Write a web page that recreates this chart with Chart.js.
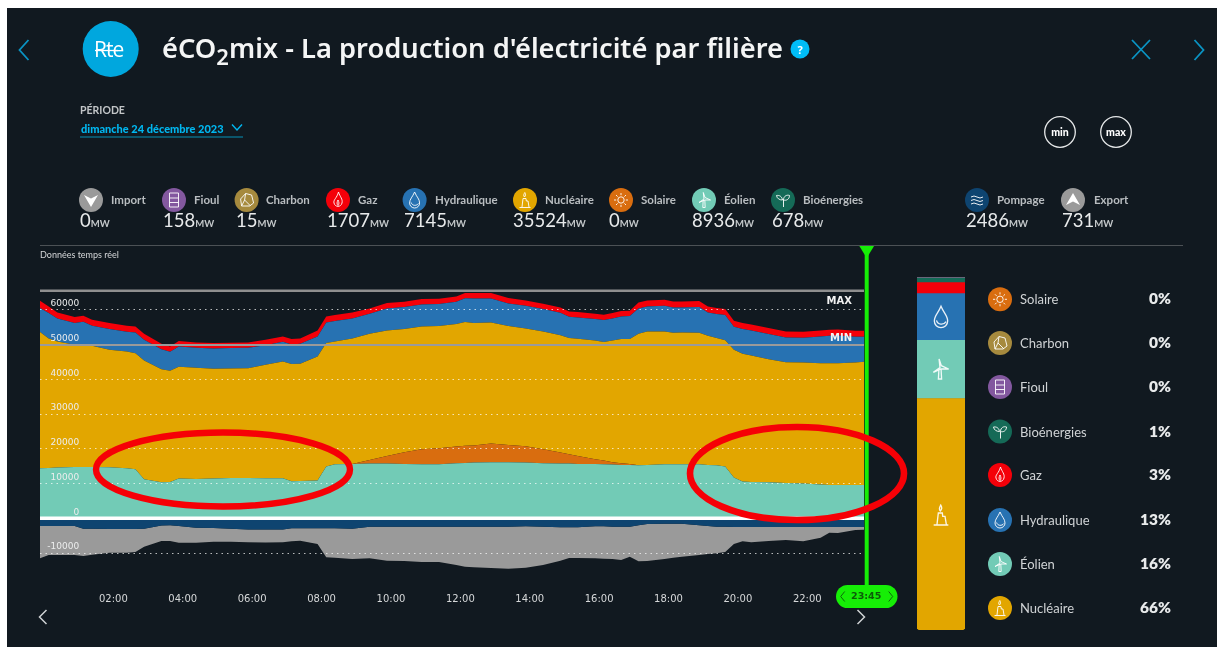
<!DOCTYPE html>
<html lang="fr"><head><meta charset="utf-8">
<title>éCO2mix</title>
<script src="https://cdn.jsdelivr.net/npm/chart.js@4"></script>
<style>
html,body{margin:0;padding:0;background:#fff;width:1217px;height:647px;overflow:hidden}
#panel{position:absolute;left:7px;top:8px;width:1210px;height:639px;background:#111920}
#main{position:absolute;left:0;top:0;width:1217px;height:647px}
#barWrap{position:absolute;left:917px;top:277px;width:48px;height:353px}
#over{position:absolute;left:0;top:0;pointer-events:none}
.t{position:absolute;white-space:nowrap;font-family:Lato,sans-serif;color:#fff;line-height:1}
.lab{font-size:11.5px;font-weight:700;color:#b9bdc0;transform:translateY(-50%)}
.val{font-size:18.5px;color:#e8eaeb;transform:translateY(-50%)}
.val small{font-size:9.5px;font-weight:700;color:#c4c8ca}
.rlab{font-size:13px;font-weight:400;color:#d0d3d5;transform:translateY(-50%)}
.rval{font-size:15.5px;font-weight:800;color:#e8eaeb;transform:translate(-100%,-50%)}
</style></head><body>
<div id="panel"></div>
<canvas id="main" width="1217" height="647"></canvas>
<div id="barWrap"><canvas id="bar" width="48" height="353"></canvas></div>
<svg id="over" width="1217" height="647"></svg>
<div id="txt"></div>
<script>
const hours = [0,.25,.5,1,1.25,1.5,2,2.5,2.75,3,3.5,3.75,4,4.5,5,5.5,6,6.5,7,7.25,7.5,8,8.25,8.5,9,9.5,10,10.5,11,11.5,12,12.25,12.5,13,13.5,14,14.5,15,15.25,15.5,16,16.25,16.5,16.75,17,17.25,17.5,18,18.25,18.5,19,19.25,19.5,19.75,20,20.25,20.5,21,21.5,22,22.5,22.75,23,23.5,23.75];
const eolien = [14400,14500,14590,14780,14780,14780,14690,14400,14110,11230,10370,10460,11420,11330,11420,11620,11620,11520,11520,10660,10750,10850,14880,15550,15650,15740,15740,15650,15550,15550,15840,15940,16030,16130,16130,16030,15840,15740,15740,15650,15650,15550,15460,15360,15360,15260,15360,15550,15550,15550,15550,15360,15260,14880,11710,10560,10460,10370,10180,9980,9700,9600,9600,9600,9600];
const solaire = [0,0,0,0,0,0,0,0,0,0,0,0,0,0,0,0,0,0,0,0,0,0,0,0,0,1060,2210,3360,4320,4610,4800,4900,4900,5380,4990,4700,4030,3170,2690,2300,1340,1060,670,480,290,0,0,0,0,0,0,0,0,0,0,0,0,0,0,0,0,0,0,0,0];
const nucleaire = [39170,37250,36290,35140,35040,34850,33790,33600,33410,34180,32540,31970,32160,31970,31580,31490,31580,32640,33600,33700,33700,35710,35520,35330,36100,36290,36100,35420,35330,35140,35230,35620,35230,34850,34180,33890,33890,33790,33410,33700,34180,34080,35040,35710,35900,37820,38400,38210,37820,37920,37820,37150,36580,36380,36770,36770,36380,35420,34750,34850,34940,35040,35040,35230,35420];
const hydraulique = [6910,7300,6620,6240,6720,5760,5950,5660,5950,5950,5760,5470,5860,5760,5860,5860,5860,5660,5660,5660,5760,5760,5950,5860,5760,5760,6340,6340,6340,6340,6430,6820,7100,6910,6530,6530,6430,6430,6140,6140,6140,6340,6340,6530,6620,7300,7200,7390,7300,7200,7390,6720,6910,7200,6620,7100,7200,7200,7100,7100,7680,7870,7970,7390,7200];
const gaz = [2110,1920,1730,1730,1730,1730,1730,1730,1730,1730,1540,1540,1540,1540,1540,1540,1540,1540,1540,1540,1540,1730,1730,1730,1730,1540,1540,1540,1540,1540,1540,1540,1540,1540,1540,1540,1540,1540,1540,1540,1540,1540,1540,1540,1540,1730,1730,1730,1730,1730,1730,1730,1730,1730,1730,1730,1730,1730,1730,1730,1730,1730,1730,1730,1730];
const pompage = [-2210,-2210,-2210,-2210,-2980,-2980,-3070,-3070,-3070,-2980,-2110,-2020,-2210,-2690,-2780,-2980,-3260,-3260,-3260,-2880,-2880,-2880,-2880,-2880,-2980,-2400,-2400,-2400,-2400,-2400,-2400,-2400,-2400,-2400,-2400,-2300,-2400,-2590,-2590,-2590,-2300,-2300,-2400,-2400,-2400,-2020,-1630,-1540,-1540,-1540,-2020,-2210,-2400,-2400,-2500,-2500,-2500,-2500,-2500,-2500,-2500,-2500,-2500,-2500,-2500];
const exportMW = [-9310,-8350,-8350,-8350,-7870,-7490,-6820,-6820,-6620,-5180,-4420,-4510,-4800,-4320,-3940,-3740,-3650,-3740,-3650,-3740,-3550,-4510,-8350,-8450,-8740,-9120,-9790,-9890,-10180,-10180,-11040,-11520,-11710,-11900,-12100,-11900,-11040,-9600,-8830,-8830,-9220,-9310,-9310,-9600,-8640,-10370,-10660,-10180,-9790,-9500,-8540,-8060,-7680,-7300,-4900,-4130,-4420,-4030,-3740,-4130,-3070,-1630,-1730,-860,-770];
const yTicks = [-10000,0,10000,20000,30000,40000,50000,60000];
const xTicks = [2,4,6,8,10,12,14,16,18,20,22];
const maxRef = 65470, minRef = 49840, cursorHour = 23.75;
const mixNames = ['Nucléaire','Éolien','Hydraulique','Gaz','Bioénergies','Charbon','Fioul'];
const mixMW = [35524,8936,7145,1707,678,15,158];
const mixColors = ['#e2a600','#72cbb6','#2772b2','#f40009','#156a57','#a68a3e','#7d5aa0'];
const liveNames = ['Import','Fioul','Charbon','Gaz','Hydraulique','Nucléaire','Solaire','Éolien','Bioénergies','Pompage','Export'];
const liveMW = [0,158,15,1707,7145,35524,0,8936,678,2486,731];
const shareNames = ['Solaire','Charbon','Fioul','Bioénergies','Gaz','Hydraulique','Éolien','Nucléaire'];
const sharePct = [0,0,0,1,3,13,16,66];

const col = {Import:'#9a9a9a',Export:'#9a9a9a',Fioul:'#83589f',Charbon:'#a68a3e',Gaz:'#f40009',Hydraulique:'#2772b2','Nucléaire':'#e2a600',Solaire:'#d96d0f','Éolien':'#72cbb6','Bioénergies':'#156a57',Pompage:'#0e4470'};

const pts = a => a.map((y,i)=>({x:hours[i],y}));
const area = (label,data,color,fill) => ({label,data:pts(data),backgroundColor:color,borderColor:color,borderWidth:0,pointRadius:0,tension:0,fill});

const overlay = {
  id:'overlay',
  afterDraw(c){
    const {ctx,scales:{x,y}} = c;
    const L=x.left,R=x.right;
    ctx.save();
    const hline=(v,color,w)=>{ctx.strokeStyle=color;ctx.lineWidth=w;ctx.beginPath();ctx.moveTo(L,y.getPixelForValue(v));ctx.lineTo(R,y.getPixelForValue(v));ctx.stroke();};
    hline(maxRef,'#8f8f8f',2.6);
    hline(minRef,'#9a9a9a',2);
    hline(0,'#ffffff',3.4);
    ctx.fillStyle='#f2f2f2';ctx.font='bold 10px "DejaVu Sans"';ctx.textAlign='right';ctx.textBaseline='middle';
    ctx.fillText('MAX',R-12,y.getPixelForValue(maxRef)+11);
    ctx.fillText('MIN',R-12,y.getPixelForValue(minRef)-7);
    const cx=x.getPixelForValue(cursorHour)+2.7;
    ctx.strokeStyle='#16ee06';ctx.lineWidth=4;ctx.beginPath();ctx.moveTo(cx,250);ctx.lineTo(cx,590);ctx.stroke();
    ctx.fillStyle='#16ee06';ctx.beginPath();ctx.moveTo(cx-8,245);ctx.lineTo(cx+8,245);ctx.lineTo(cx,258);ctx.closePath();ctx.fill();
    ctx.beginPath();ctx.roundRect(836,585,61.5,23,11.5);ctx.fill();
    ctx.fillStyle='#0d5a0a';ctx.font='bold 9.5px "DejaVu Sans"';ctx.textAlign='center';
    ctx.fillText('23:45',cx-.5,596.5);
    ctx.strokeStyle='#0d6a0a';ctx.lineWidth=1;
    [[cx-22,cx-26],[cx+22,cx+26]].forEach(([a,b])=>{ctx.beginPath();ctx.moveTo(a,591.5);ctx.lineTo(b,596.5);ctx.lineTo(a,601.5);ctx.stroke();});
    ctx.restore();
  }
};

new Chart(document.getElementById('main'),{
  type:'line',
  data:{datasets:[
    area('Éolien',eolien,col['Éolien'],'origin'),
    area('Solaire',solaire,col.Solaire,'-1'),
    area('Nucléaire',nucleaire,col['Nucléaire'],'-1'),
    area('Hydraulique',hydraulique,col.Hydraulique,'-1'),
    area('Gaz',gaz,col.Gaz,'-1'),
    area('Pompage',pompage,col.Pompage,'origin'),
    area('Export',exportMW,col.Export,'-1')
  ]},
  options:{
    responsive:false,animation:false,
    layout:{padding:{left:40,right:353,top:275,bottom:39.2}},
    plugins:{legend:{display:false},tooltip:{enabled:false}},
    scales:{
      x:{type:'linear',min:0,max:23.75,border:{display:false},grid:{display:false},
        afterFit(s){s.height=20;},
        afterBuildTicks(s){s.ticks=xTicks.map(value=>({value}));},
        ticks:{autoSkip:false,maxRotation:0,labelOffset:4,padding:-2,color:'#d6d8d9',font:{family:'DejaVu Sans',size:10},
          callback:v=>String(v).padStart(2,'0')+':00'}},
      y:{type:'linear',stacked:true,min:-20000,max:70000,position:{x:1.13},border:{display:false,dash:[1.5,4]},
        grid:{z:1,color:'rgba(255,255,255,.7)',lineWidth:1,drawTicks:false},
        afterBuildTicks(s){s.ticks=yTicks.map(value=>({value}));},
        ticks:{z:2,autoSkip:false,padding:0,labelOffset:-6,color:'#eceded',font:{family:'DejaVu Sans',size:9},callback:v=>String(v)}}
    }
  },
  plugins:[overlay]
});

new Chart(document.getElementById('bar'),{
  type:'bar',
  data:{labels:['mix'],datasets:mixNames.map((n,i)=>({label:n,data:[mixMW[i]],backgroundColor:mixColors[i],borderWidth:0,borderSkipped:false,
    borderRadius:i===0?{bottomLeft:4,bottomRight:4,topLeft:0,topRight:0}:0,barPercentage:1,categoryPercentage:1}))},
  options:{responsive:false,animation:false,layout:{padding:0},plugins:{legend:{display:false},tooltip:{enabled:false}},
    scales:{x:{stacked:true,display:false},y:{stacked:true,display:false,min:0,max:mixMW.reduce((a,b)=>a+b,0)}}}
});

const g = {
  arrowD:'<path d="M5 7 L12 10.5 L19 7 L12 19 Z" fill="#fff" stroke="none"/>',
  arrowU:'<path d="M5 17 L12 13.5 L19 17 L12 5 Z" fill="#fff" stroke="none"/>',
  barrel:'<path d="M7.5 5 H16.5 V19 H7.5 Z M7.5 10 H16.5 M7.5 14.5 H16.5"/>',
  rock:'<path d="M7 18 L6 11 L11 5.5 L17 7 L19 15 L15 18 Z M11 5.5 L10 12 L7 18 M10 12 L16 18"/>',
  flame:'<path d="M12.5 4 C14 9 17 11 16 15 C15 19.5 9 19.5 8 15 C7 12 11 10 12.5 4 Z M12 12 C13 14 13.5 16 12 17.5 C10.5 16 11 14 12 12 Z"/>',
  drop:'<path d="M12 4 C14 9 17 11 17 15 A5 5 0 0 1 7 15 C7 11 10 9 12 4 Z M8.6 14.5 C9.5 18 14 18.2 15.8 15.5"/>',
  nuc:'<path d="M9 19 L10 10.5 H13 L13.3 13 H15 L16 19 M6.5 19.5 H17.5 M11.5 9 C10 7.5 11 6 11.8 4.5 C12.7 6 13 7.5 11.5 9 Z"/>',
  sun:'<circle cx="12" cy="12" r="3.2"/><path d="M12 5 V7.2 M12 16.8 V19 M5 12 H7.2 M16.8 12 H19 M7 7 L8.6 8.6 M15.4 15.4 L17 17 M17 7 L15.4 8.6 M8.6 15.4 L7 17"/>',
  wind:'<path d="M11.2 12 L10.8 19.5 H13.2 L12.8 12 M12 11 L11.3 4.5 L13 9.5 L18.5 12 L12.8 12 L7 14.5 Z"/>',
  leaf:'<path d="M12.5 19 V12 C12.5 8 16 6.5 18.5 7.5 C18.5 11 15.5 13 12.5 12 M11.5 12 C8.5 12 6 10.5 5.5 7.5 C8.5 7 11 8.5 11.5 12"/>',
  wave:'<path d="M6 9 Q9 7 12 9 T18 9 M6 12.5 Q9 10.5 12 12.5 T18 12.5 M6 16 Q9 14 12 16 T18 16"/>'
};
const glyph = {Import:'arrowD',Export:'arrowU',Fioul:'barrel',Charbon:'rock',Gaz:'flame',Hydraulique:'drop','Nucléaire':'nuc',Solaire:'sun','Éolien':'wind','Bioénergies':'leaf',Pompage:'wave'};
const icon=(cx,cy,r,name,bg)=>{
  const s=r/12;
  return (bg?`<circle cx="${cx}" cy="${cy}" r="${r}" fill="${col[name]}"/>`:'')+
   `<g transform="translate(${cx-12*s} ${cy-12*s}) scale(${s})" fill="none" stroke="#fff" stroke-width="${bg?1:1}" stroke-opacity=".9">${g[glyph[name]]}</g>`;
};
const chev=(x,y,dir,h,w,c,sw)=>`<path d="M${x-dir*w/2} ${y-h/2} L${x+dir*w/2} ${y} L${x-dir*w/2} ${y+h/2}" fill="none" stroke="${c}" stroke-width="${sw}"/>`;

const iconX=[91,174,246.6,338,414.6,525,621,704,783,977,1073];
const labX=[111,194,266,358,435,545,641,724,803,997,1094];
const valX=[80,163,236,327,404,513,609,692,772,966,1062];
const shareY=[299.3,343,387,431.5,475,520,564,608];

let svg='';
svg+=chev(24,50,-1,20,9,'#0a94c4',1.8)+chev(1199,50,1,20,9,'#0a94c4',1.8);
svg+='<path d="M1132 40 L1150 59 M1150 40 L1132 59" stroke="#0a94c4" stroke-width="1.8"/>';
svg+='<circle cx="110.7" cy="49" r="28" fill="#00a7de"/>';
svg+='<path d="M95 50.5 H118" stroke="#fff" stroke-width="1.3"/>';
svg+='<circle cx="800" cy="49" r="9.5" fill="#00bdf7"/>';
svg+='<path d="M80 137 H243" stroke="#0a6a85" stroke-width="1.4"/>';
svg+='<path d="M232 124.5 L237 130 L242 124.5" fill="none" stroke="#00b7f0" stroke-width="1.4"/>';
svg+='<circle cx="1060" cy="132" r="15.3" fill="none" stroke="#e6e8e9" stroke-width="1.3"/><circle cx="1116" cy="132" r="15.3" fill="none" stroke="#e6e8e9" stroke-width="1.3"/>';
svg+='<path d="M40 245.5 H1183" stroke="#4c5155" stroke-width="1"/>';
liveNames.forEach((n,i)=>{svg+=icon(iconX[i],200,12,n,true);});
shareNames.forEach((n,i)=>{svg+=icon(1000,shareY[i],12,n,true);});
svg+=icon(941,317,16,'Hydraulique',false)+icon(940,369,16,'Éolien',false)+icon(941,515,16,'Nucléaire',false);
svg+=chev(43,617,-1,14,7,'#cfd2d4',1.5)+chev(861,617,1,14,7,'#cfd2d4',1.5);
svg+='<ellipse cx="223" cy="469.5" rx="127" ry="37" fill="none" stroke="#f60006" stroke-width="6.4"/>';
svg+='<ellipse cx="797" cy="473.5" rx="107" ry="46.5" fill="none" stroke="#f60006" stroke-width="6.6"/>';
document.getElementById('over').innerHTML=svg;

let h='';
const T=(x,y,s,txt,extra='')=>`<div class="t ${extra}" style="left:${x}px;top:${y}px;${s}">${txt}</div>`;
h+=T(94,49,'font-family:\'Open Sans\';font-size:21px;transform:translateY(-50%);letter-spacing:-1px;font-weight:400','Rte');
h+=T(162,48,'font-family:\'Noto Sans\';font-size:27.3px;font-weight:600;transform:translateY(-50%);color:#f4f5f5;','éCO<sub style="font-size:22px;line-height:0;vertical-align:-7px">2</sub>mix - La production d\'électricité par filière');
h+=T(800,49,'font-family:\'Noto Sans\';font-size:11px;font-weight:700;transform:translate(-50%,-50%)','?');
h+=T(80,109.5,'font-size:10.5px;font-weight:700;color:#c2c5c7;transform:translateY(-50%)','PÉRIODE');
h+=T(81,128,'font-size:11px;font-weight:900;color:#00b7f0;transform:translateY(-50%)','dimanche 24 décembre 2023');
h+=T(1060,132,'font-size:10.5px;font-weight:900;transform:translate(-50%,-50%)','min');
h+=T(1116,132,'font-size:10.5px;font-weight:900;transform:translate(-50%,-50%)','max');
h+=T(40,254,'font-size:9px;color:#d4d6d8;transform:translateY(-50%)','Données temps réel');
liveNames.forEach((n,i)=>{
  h+=T(labX[i],200,'',n,'lab');
  h+=T(valX[i],220,'',`${liveMW[i]}<small>MW</small>`,'val');
});
shareNames.forEach((n,i)=>{
  h+=T(1020,shareY[i],'',n,'rlab');
  h+=T(1171,shareY[i],'',sharePct[i]+'%','rval');
});
document.getElementById('txt').innerHTML=h;
</script>
</body></html>
